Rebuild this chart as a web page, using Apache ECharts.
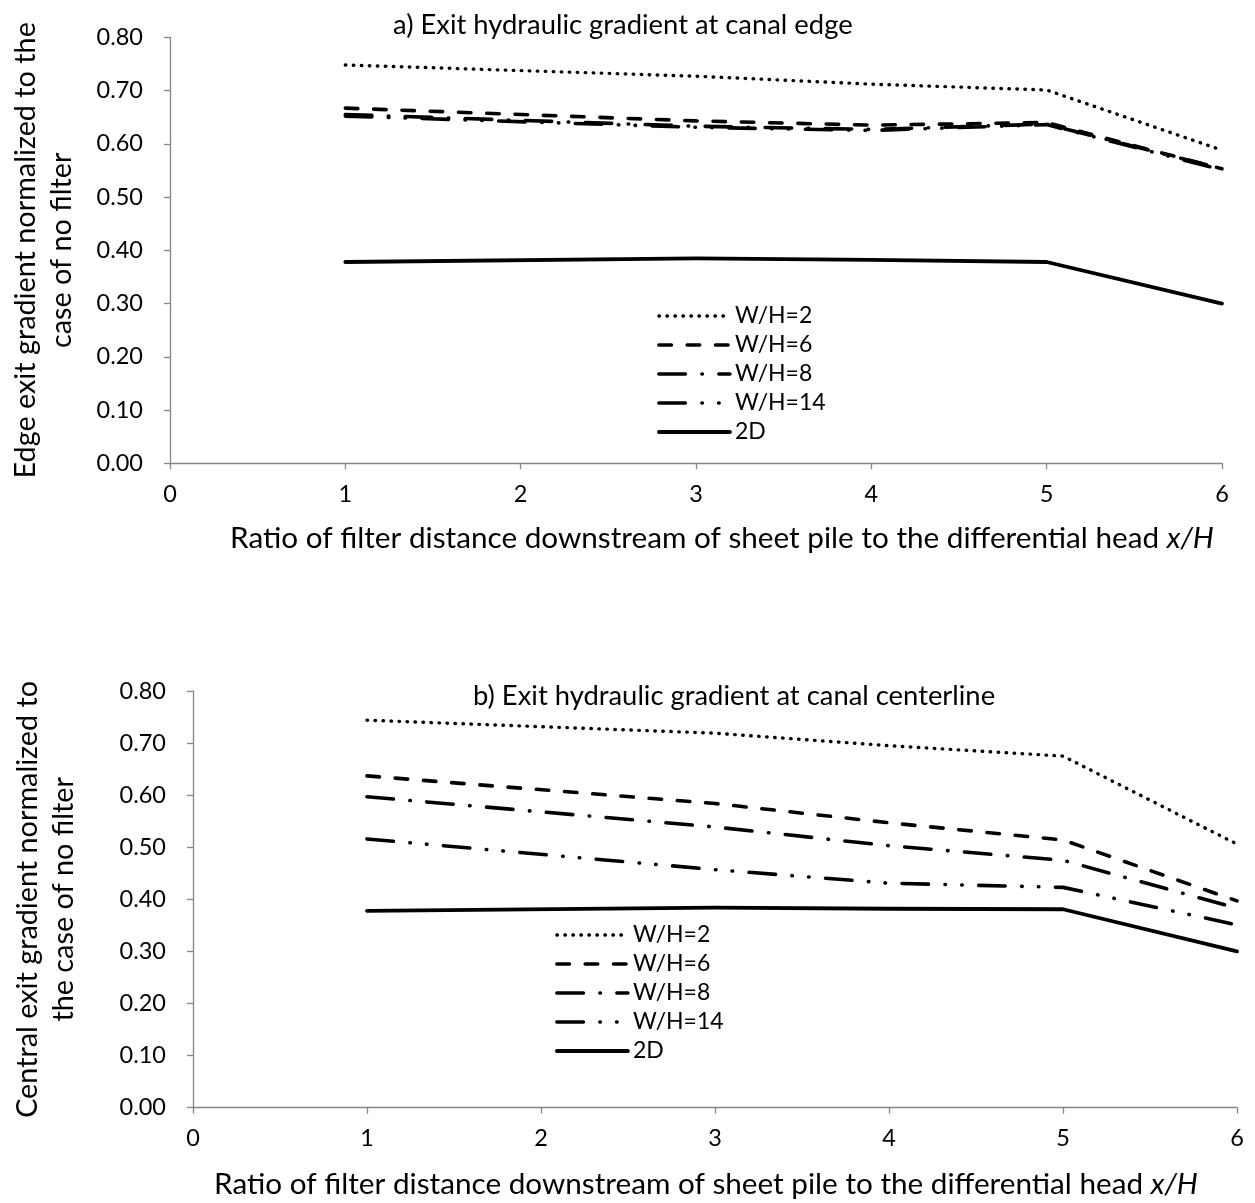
<!DOCTYPE html>
<html><head><meta charset="utf-8">
<script src="https://cdn.jsdelivr.net/npm/echarts@6/dist/echarts.min.js"></script>
<style>html,body{margin:0;padding:0;background:#fff}#c{width:1255px;height:1203px}</style>
</head><body><div id="c"></div>
<script>
// x positions (ratio x/H)
const xValues = [1, 3, 4, 5, 6];
const seriesNames = ['W/H=2', 'W/H=6', 'W/H=8', 'W/H=14', '2D'];
// a) edge exit gradient
const edgeWH2  = [0.748, 0.727, 0.712, 0.701, 0.588];
const edgeWH6  = [0.667, 0.643, 0.635, 0.640, 0.553];
const edgeWH8  = [0.655, 0.633, 0.627, 0.637, 0.553];
const edgeWH14 = [0.652, 0.631, 0.625, 0.636, 0.551];
const edge2D   = [0.378, 0.385, 0.382, 0.378, 0.300];
// b) central exit gradient
const centWH2  = [0.744, 0.719, 0.695, 0.675, 0.506];
const centWH6  = [0.637, 0.584, 0.547, 0.514, 0.397];
const centWH8  = [0.597, 0.539, 0.503, 0.475, 0.383];
const centWH14 = [0.516, 0.457, 0.431, 0.423, 0.351];
const cent2D   = [0.378, 0.384, 0.382, 0.381, 0.300];
// axis ticks
const xTickMin = 0, xTickMax = 6, xTickStep = 1;
const yTickMin = 0, yTickMax = 0.8, yTickStep = 0.1;

const titleA = 'a) Exit hydraulic gradient at canal edge';
const titleB = 'b) Exit hydraulic gradient at canal centerline';
const xName = 'Ratio of filter distance downstream of sheet pile to the differential head {i|x/H}';
const yNameA = 'Edge exit gradient normalized to the\ncase of no filter';
const yNameB = 'Central exit gradient normalized to\nthe case of no filter';

const FONT = 'Lato';
const styles = [
  {width: 3.4, type: [0.5, 7.5], cap: 'round'},
  {width: 3.6, type: [12.5, 15.8], cap: 'round'},
  {width: 3.6, type: [26.5, 16.5, 0.5, 16.5], cap: 'round'},
  {width: 3.6, type: [26.5, 16.5, 0.5, 16.2, 0.5, 16.5], cap: 'round'},
  {width: 3.8, type: 'solid', cap: 'round'}
];
const edgeSets = [edgeWH2, edgeWH6, edgeWH8, edgeWH14, edge2D];
const centSets = [centWH2, centWH6, centWH8, centWH14, cent2D];

function mkSeries(sets, idx) {
  return sets.map((vals, k) => ({
    name: seriesNames[k], type: 'line', xAxisIndex: idx, yAxisIndex: idx,
    symbol: 'none', silent: true, animation: false,
    data: xValues.map((x, j) => [x, vals[j]]),
    lineStyle: Object.assign({color: '#000', join: 'round'}, styles[k]),
    itemStyle: {color: '#000', opacity: 0}
  }));
}

const axisLineStyle = {color: '#868686', width: 1.3};
function xAxis(idx, gap, pad) {
  return {
    type: 'value', gridIndex: idx, min: xTickMin, max: xTickMax, interval: xTickStep,
    splitLine: {show: false},
    axisLine: {lineStyle: axisLineStyle},
    axisTick: {length: 6, lineStyle: axisLineStyle},
    axisLabel: {color: '#000', fontFamily: FONT, fontSize: 23.5, margin: 19},
    name: xName, nameLocation: 'middle', nameGap: gap,
    nameTextStyle: {color: '#000', fontFamily: FONT, fontSize: 29.7, padding: pad,
      rich: {i: {fontStyle: 'italic', fontFamily: FONT, fontSize: 29.7, color: '#000'}}}
  };
}
function yAxis(idx, name, gap) {
  return {
    type: 'value', gridIndex: idx, min: yTickMin, max: yTickMax, interval: yTickStep,
    splitLine: {show: false},
    axisLine: {show: true, lineStyle: axisLineStyle},
    axisTick: {show: true, length: 6, lineStyle: axisLineStyle},
    axisLabel: {color: '#000', fontFamily: FONT, fontSize: 23.5, margin: 27,
      formatter: v => v.toFixed(2)},
    name: name, nameLocation: 'middle', nameGap: gap, nameRotate: 90,
    nameTextStyle: {color: '#000', fontFamily: FONT, fontSize: 28.8, lineHeight: 36, align: 'center'}
  };
}

const legendText = {fontFamily: FONT, fontSize: 23, color: '#000', lineHeight: 24};
const legendLine = {width: 'inherit', type: 'inherit', cap: 'inherit', color: 'inherit'};
const chart = echarts.init(document.getElementById('c'), null, {renderer: 'canvas'});
chart.setOption({
  backgroundColor: '#fff',
  animation: false,
  title: [
    {text: titleA, left: 388, top: 7, textStyle: {fontFamily: FONT, fontSize: 27.4, fontWeight: 'normal', color: '#000'}},
    {text: titleB, left: 468, top: 678, textStyle: {fontFamily: FONT, fontSize: 27.4, fontWeight: 'normal', color: '#000'}}
  ],
  grid: [
    {left: 166, right: 33, top: 37.3, height: 426},
    {left: 193, right: 18, top: 691, height: 416.7}
  ],
  legend: [
    {orient: 'vertical', left: 652, top: 299, itemWidth: 71, itemHeight: 14, itemGap: 5,
     data: seriesNames, selectedMode: false, itemStyle: {opacity: 0}, lineStyle: legendLine,
     textStyle: legendText},
    {orient: 'vertical', left: 550, top: 918, itemWidth: 71, itemHeight: 14, itemGap: 5,
     data: seriesNames, selectedMode: false, itemStyle: {opacity: 0}, lineStyle: legendLine,
     textStyle: legendText}
  ],
  xAxis: [xAxis(0, 60, [0, 0, 0, 52]), xAxis(1, 62, [0, 18, 0, 0])],
  yAxis: [yAxis(0, yNameA, 90), yAxis(1, yNameB, 111)],
  series: mkSeries(edgeSets, 0).concat(mkSeries(centSets, 1))
});
</script>
</body></html>
